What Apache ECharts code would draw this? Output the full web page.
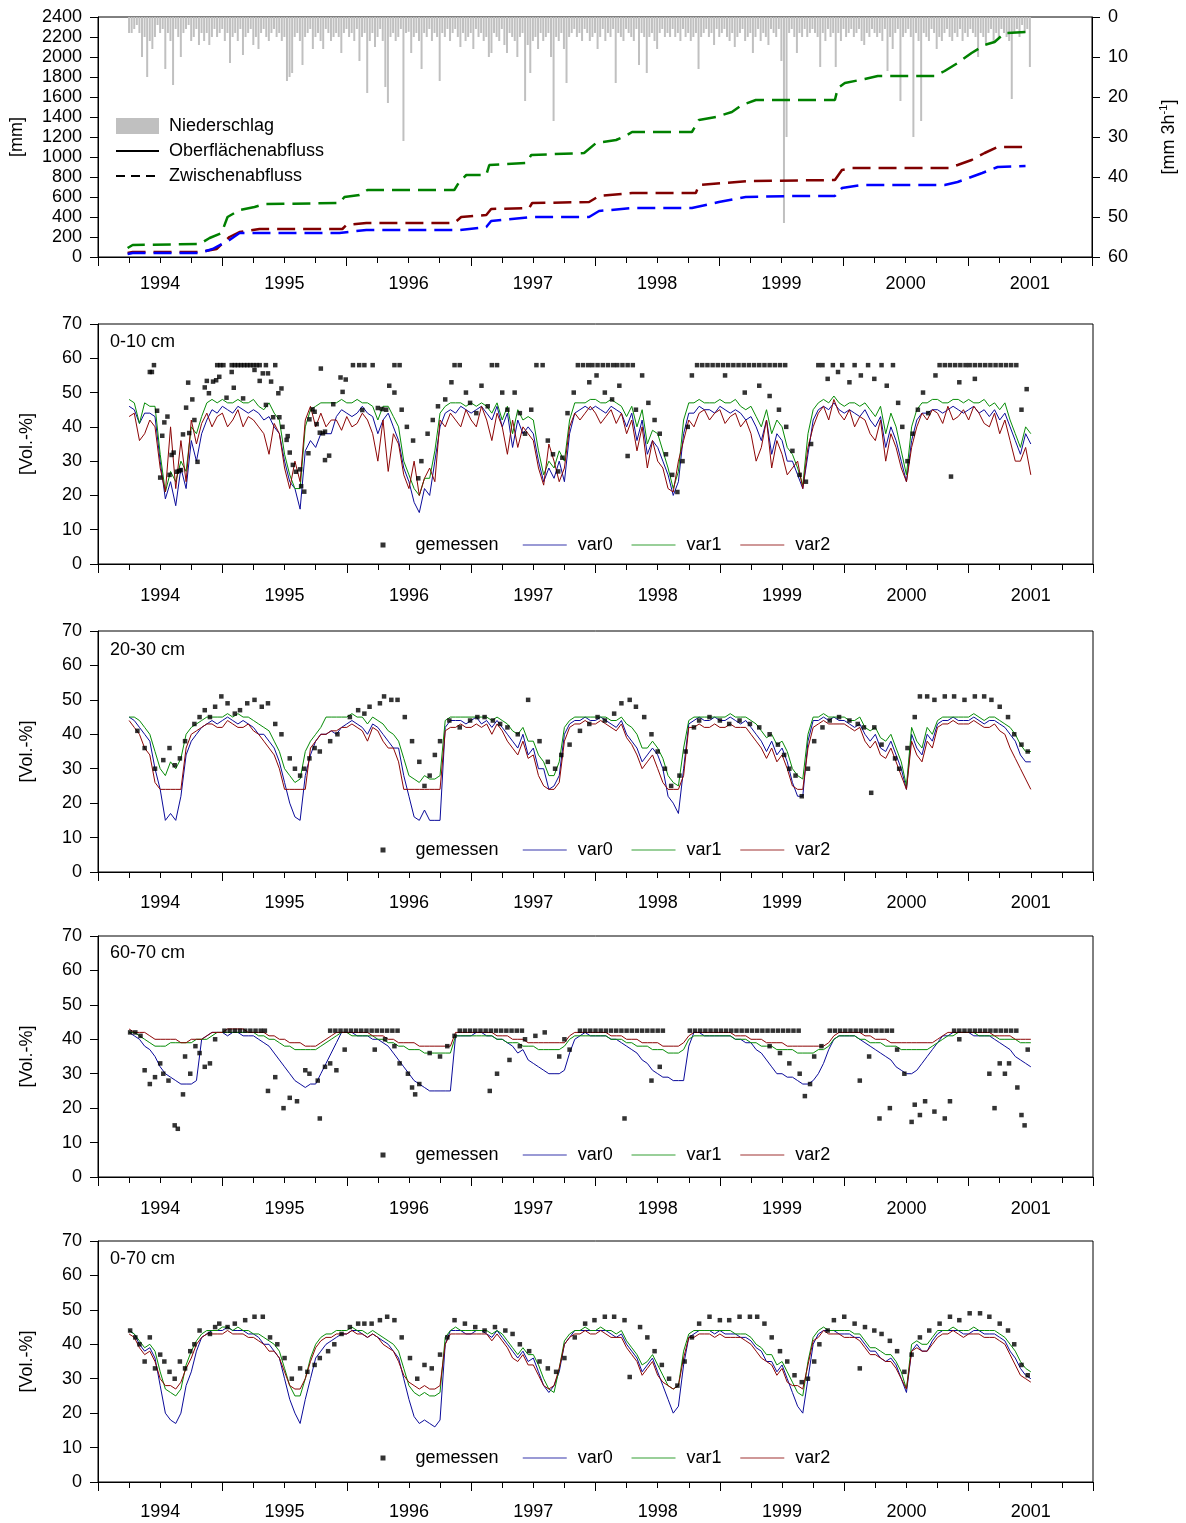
<!DOCTYPE html>
<html>
<head>
<meta charset="utf-8">
<script src="https://cdn.jsdelivr.net/npm/echarts@6/dist/echarts.min.js"></script>
<style>
  html, body { margin: 0; padding: 0; background: #fff; }
  #chart { width: 1186px; height: 1523px; }
</style>
</head>
<body>
<div id="chart"></div>
<script>
// ---------------------------------------------------------------------------
// Time base: all times are months after 1 Jan 1994.
// Simulated series are sampled every half month from April 1994 (month 3)
// to the end of June 2001 (month 90); rainfall is sampled weekly.
// ---------------------------------------------------------------------------
const SIM_START = 3, SIM_STEP = 0.5;
const RAIN_START = 3, RAIN_STEP = 0.25;

const yearLabels = [1994, 1995, 1996, 1997, 1998, 1999, 2000, 2001];
const depthLabels = ['0-10 cm', '20-30 cm', '60-70 cm', '0-70 cm'];

// Rainfall [mm 3h-1], weekly maxima
const rain = [
  4,4,3,2,4,10,5,15,6,8, 5,2,4,3,13,4,6,17,3,5, 10,4,3,2,6,5,3,7,4,6,
  4,7,5,3,5,4,3,6,4,11.5, 5,4,6,3,9.5,5,4,3,7,5, 8,4,3,5,6,4,3,5,4,6,
  5,16,15,14,5,4,6,12,5,4, 3,8,5,4,6,8,3,4,6,5, 4,5,9,4,3,5,4,6,3,11,
  5,4,19,6,4,7.5,5,3,6,17.5, 21.5,5,4,6,5,3,31,4,3.7,9, 5,4,6,13,4,5,3,6,4,5,
  16,4,5,3,6,4,3,5,7.5,4, 6,5,4,8,3,5,4,6,5,10, 9,4,5,6,3,7,9,4,5,6,
  10,5,4,21,7,14,6,5,8,4, 6,5,4,10,26,5,6,4,8,16.5, 5,4,3,5,4,6,3,4,6,5,
  4,8,5,3,6,4,5,3,16.5,4, 5,6,3,4,5,6,3,12,4,5, 14,5,4,6,8,4,3,5,4,5,
  3,5,4,6,3,5,4,6,5,4, 13,5,4,3,5,4,7,3,5,4, 3,5,6,4,7.5,5,4,3,6,5,
  4,9,5,3,6,4,5,7,3,4, 5,3,11,51.5,30,4,3,5,9,4, 5,3,5,4,3,4,5,12.5,4,6,
  3,5,4,12.5,4,6,3,5,4,3, 5,4,3,6,7,4,5,3,4,5, 4,6,3,13.5,5,8,4,3,21,5,
  4,3,5,30,4,6,26,4,5,6, 3,4,8,5,6,4,3,5,6,4, 5,3,6,4,5,3,4,5,10,4,
  5,6.5,4,3,6,4,5,3,4,5, 6,20.5,4,3,5,2,4,3,12.5
];

// Cumulative interflow [mm] as [month, value]
const cumVar0 = [[2.86,30],[3.35,40],[9.81,40],[11.06,80],[12.7,170],[13.67,240],[23.32,240],[25.92,270],
  [34.89,270],[37.5,300],[37.97,360],[41.93,400],[47.43,400],[48.39,460],[51.58,490],[57.36,490],[59.96,550],
  [62.55,600],[66.99,610],[71.17,610],[71.85,690],[73.77,720],[81.77,720],[83.02,750],[85.4,840],[86.88,900],[89.58,910]];
const cumVar1 = [[2.86,90],[3.35,120],[9.81,130],[10.78,190],[11.93,240],[12.51,400],[13.67,470],[15.12,500],
  [16.08,530],[23.32,540],[23.8,600],[25.25,620],[26.02,670],[34.41,670],[34.89,750],[35.57,820],[37.5,820],
  [37.79,920],[41.35,940],[41.84,1020],[46.95,1040],[48.11,1140],[50.04,1170],[51.1,1220],[51.58,1250],
  [57.36,1250],[58.04,1370],[59.68,1400],[61.22,1450],[62.18,1520],[63.53,1570],[71.17,1570],[71.45,1690],
  [72.13,1740],[74.06,1780],[75.31,1810],[80.81,1810],[81.77,1860],[83.02,1940],[84.37,2040],[85.63,2120],
  [86.59,2150],[87.56,2240],[89.78,2250]];
const cumVar2 = [[2.86,40],[3.35,50],[9.81,50],[11.45,80],[12.7,200],[13.67,250],[15.6,280],[23.6,280],[23.99,320],
  [25.92,340],[34.41,340],[35.08,400],[37.5,420],[37.97,480],[41.64,490],[41.93,540],[47.43,550],[48.39,610],
  [51.58,640],[57.74,640],[58.04,720],[62.86,760],[71.17,770],[71.85,870],[72.81,890],[82.17,890],[83.02,920],
  [84.37,970],[85.63,1040],[86.88,1100],[89.78,1100]];

// Soil water content [Vol.-%], 0-10 cm
const d1var0 = [46,45,41,44,44,43,30,19,24,17,28,22,36,30,38,42,45,44,
  46,45,44,46,45,44,45,44,42,43,40,38,30,24,22,16,33,36,34,38,38,38,43,45,
  44,43,44,46,44,43,38,42,44,40,36,28,24,18,15,22,20,30,40,44,45,44,46,45,
  44,45,46,44,42,46,40,44,34,42,38,40,38,30,24,28,25,30,24,38,44,45,46,45,
  46,45,44,46,45,44,40,44,36,42,32,36,34,30,26,20,24,38,44,44,46,45,45,44,
  46,45,44,45,44,42,43,40,36,42,32,38,36,30,30,26,22,32,42,45,46,45,47,45,
  44,45,44,43,45,42,40,43,34,40,36,30,24,36,42,44,44,45,45,44,45,46,45,44,
  45,46,44,45,43,45,42,44,40,36,32,38,35];
const d1var1 = [48,47,41,47,46,46,32,21,27,24,30,27,40,38,43,47,48,47,
  48,47,47,48,47,47,48,46,45,47,44,42,32,26,22,22,40,45,46,47,47,47,47,48,
  47,47,48,47,47,46,42,46,46,43,40,30,26,22,20,25,25,33,44,46,47,47,47,46,
  47,46,47,46,44,47,42,46,38,45,42,43,42,33,26,30,28,33,30,42,47,47,47,48,
  48,47,47,48,47,46,43,46,40,45,35,39,38,33,28,22,27,42,47,47,48,47,47,47,
  48,47,47,48,46,45,46,43,40,45,38,42,40,34,32,28,23,38,45,47,48,47,49,47,
  46,47,47,46,47,45,43,46,38,44,40,33,26,40,45,47,47,48,48,47,47,48,48,47,
  48,47,47,48,46,47,45,47,42,38,34,40,38];
const d1var2 = [43,44,36,38,42,40,28,21,40,22,36,24,42,35,41,44,40,43,
  44,40,42,45,40,43,42,40,38,32,41,38,28,22,30,24,42,46,40,44,40,42,42,39,
  43,40,41,44,42,38,30,42,27,38,35,26,22,30,20,25,28,24,42,40,44,42,40,45,
  42,40,46,42,36,44,40,32,42,34,40,38,36,28,23,35,30,24,28,40,44,42,44,46,
  44,41,43,45,41,44,38,42,33,40,28,36,30,28,22,21,30,36,42,40,44,45,42,44,
  45,41,43,44,40,42,38,30,34,42,28,36,32,26,28,30,22,34,40,44,46,42,48,44,
  42,45,40,43,42,38,36,42,30,38,34,28,24,34,40,44,42,45,44,41,46,42,43,45,
  42,46,44,41,40,44,38,42,36,30,30,34,26];

// 20-30 cm
const d2var0 = [45,44,42,40,38,30,24,15,17,15,22,34,38,40,42,43,44,43,
  44,45,44,43,44,43,42,40,40,38,36,32,26,20,16,15,28,34,38,40,40,41,40,42,
  43,44,43,42,40,43,42,40,38,36,36,28,22,16,15,18,15,15,15,42,44,44,44,43,
  44,45,43,44,42,44,42,40,38,36,40,34,36,30,30,24,25,28,40,43,44,44,45,44,
  44,45,44,43,42,44,40,38,36,32,34,36,34,30,22,20,17,30,43,44,45,44,44,45,
  44,44,45,44,43,44,42,40,38,35,38,34,36,32,26,22,22,38,44,44,45,44,45,44,
  44,43,42,43,40,38,40,36,35,38,34,30,24,40,36,34,40,38,43,44,44,45,44,44,
  44,45,44,43,44,44,43,42,40,38,34,32,32];
const d2var1 = [45,45,44,42,40,35,30,28,32,30,33,40,42,43,44,45,45,45,
  45,46,45,46,45,45,44,43,42,41,38,35,30,28,26,27,35,38,40,42,45,45,45,45,
  45,46,45,45,43,45,44,43,41,40,38,33,28,27,26,28,27,27,28,44,45,45,45,45,
  45,45,45,45,44,45,44,43,41,40,42,38,38,34,32,28,28,32,42,44,45,45,45,45,
  45,45,45,44,44,45,43,42,40,36,36,38,36,33,28,26,25,36,44,45,45,45,45,45,
  45,45,46,45,45,45,44,43,41,39,40,37,38,35,30,28,27,40,45,45,46,45,45,45,
  45,44,44,45,42,41,42,39,38,40,36,32,25,42,38,36,42,40,44,45,45,45,45,45,
  45,46,45,44,45,45,44,43,42,40,37,35,35];
const d2var2 = [44,42,40,36,34,26,24,24,24,24,24,36,40,41,42,43,43,42,
  42,44,43,42,42,43,41,40,38,36,34,30,24,24,24,24,24,36,38,40,40,41,41,42,
  42,43,42,41,38,42,41,38,36,36,32,24,24,24,24,24,24,24,24,41,42,42,43,42,
  42,43,42,43,40,43,41,38,36,34,38,33,34,28,25,24,24,26,38,42,43,43,44,43,
  43,44,43,42,41,43,39,37,34,30,32,34,30,26,24,24,24,28,42,42,43,42,42,43,
  42,42,43,42,42,42,40,38,36,33,36,32,34,30,25,24,24,36,42,43,44,43,43,43,
  43,42,41,42,38,36,38,34,33,36,32,28,24,38,34,32,38,36,42,43,43,44,43,43,
  43,44,43,42,42,43,41,40,36,33,30,27,24];

// 60-70 cm
const d3var0 = [42,41,40,38,37,35,32,30,29,28,27,27,27,28,40,41,42,42,
  42,41,42,42,41,41,41,40,39,38,36,34,32,30,28,27,26,27,27,30,33,36,39,42,
  42,42,41,41,41,40,40,39,38,36,34,32,30,28,27,26,25,25,25,25,25,41,41,41,
  41,42,42,41,41,40,40,39,38,36,37,34,33,32,31,30,30,30,31,36,40,41,42,41,
  41,41,41,40,40,39,38,37,36,34,33,31,30,29,29,28,28,28,38,42,42,41,41,41,
  41,41,41,40,40,39,39,37,36,34,32,30,30,29,29,28,27,27,28,30,33,37,40,41,
  41,41,41,40,39,38,37,36,35,34,32,31,30,30,31,33,35,37,39,41,41,42,42,42,
  42,41,41,41,41,40,39,38,37,35,34,33,32];
const d3var1 = [42,42,41,40,39,38,38,38,39,39,39,39,39,40,40,40,41,42,
  42,42,42,42,42,42,42,41,41,40,40,39,38,38,37,37,37,37,37,38,39,40,41,42,
  42,41,41,41,41,41,40,40,39,39,38,38,37,37,37,36,36,36,36,36,36,41,41,41,
  41,41,41,41,41,40,40,39,39,39,38,38,38,37,37,37,37,37,38,40,41,41,41,41,
  41,41,41,40,40,40,39,39,38,38,38,37,37,37,36,36,36,37,40,41,41,41,41,41,
  41,41,41,40,40,40,39,39,38,38,38,37,37,37,37,36,36,36,36,37,37,38,40,41,
  41,41,41,40,40,39,39,39,38,38,38,37,37,37,37,37,37,38,39,40,41,41,42,42,
  42,42,41,41,41,41,40,40,40,40,39,39,39];
const d3var2 = [43,42,42,42,41,40,40,40,40,40,39,39,40,40,40,41,42,42,
  42,43,43,43,43,42,42,42,42,41,41,40,40,39,39,39,38,38,38,39,40,41,42,42,
  42,42,42,42,42,41,41,41,40,40,39,39,39,39,38,38,38,38,38,38,38,42,42,42,
  42,42,42,42,42,41,41,41,40,40,40,39,39,39,39,39,39,39,39,41,42,42,42,42,
  42,42,42,41,41,41,40,40,40,39,39,39,39,38,38,38,38,39,41,42,42,42,42,42,
  42,42,42,41,41,41,40,40,40,39,39,39,39,38,38,38,38,38,38,38,38,39,41,42,
  42,42,42,42,41,41,40,40,40,39,39,39,39,39,39,39,39,39,40,41,42,42,42,42,
  42,42,42,42,42,41,41,41,41,40,40,40,40];

// 0-70 cm
const d4var0 = [44,43,40,38,39,36,28,20,18,17,20,28,32,38,42,43,44,44,
  44,45,44,44,44,43,43,42,40,40,38,36,30,24,20,17,24,30,36,38,40,41,42,43,
  43,44,44,43,42,43,42,41,40,38,36,30,24,19,17,18,17,16,18,40,44,44,44,43,
  43,44,44,43,42,44,42,40,38,36,38,35,36,32,28,26,28,32,40,42,44,44,44,44,
  44,44,44,43,42,43,40,38,36,32,34,36,32,28,24,20,22,34,42,43,44,44,44,43,
  44,43,43,43,42,42,41,39,38,35,35,32,34,30,26,22,20,30,40,43,44,44,44,43,
  43,43,42,42,40,38,38,36,35,36,34,30,26,38,40,38,38,41,43,44,44,44,44,43,
  43,44,44,43,43,43,42,41,38,36,33,31,30];
const d4var1 = [44,43,41,39,40,38,32,27,26,25,27,34,38,41,43,44,44,44,
  45,45,44,45,44,44,43,43,42,41,40,38,33,28,25,25,30,36,40,42,43,43,44,44,
  44,45,44,44,43,44,43,42,41,40,38,33,28,26,25,26,25,25,26,42,44,45,44,44,
  44,44,44,44,43,44,43,41,39,37,39,37,37,34,30,27,26,33,41,43,44,44,45,44,
  44,45,44,44,43,44,41,39,37,34,35,37,34,31,28,27,28,38,43,44,44,44,44,44,
  44,44,44,43,43,43,42,40,39,37,37,34,35,32,29,26,25,35,42,44,45,44,44,44,
  44,44,43,43,41,39,39,38,37,37,35,32,27,40,41,40,40,42,44,44,44,45,44,44,
  44,45,44,44,44,44,43,42,40,38,35,33,32];
const d4var2 = [43,42,39,37,38,35,30,28,28,27,29,33,36,40,42,43,43,43,
  43,44,43,43,43,42,42,41,40,38,38,36,32,28,27,27,30,35,39,41,42,42,43,43,
  43,44,43,43,42,43,42,40,39,38,35,31,29,28,27,28,27,27,28,40,43,43,43,43,
  43,43,43,43,41,43,41,39,36,35,37,34,34,31,28,27,28,33,40,42,43,43,44,43,
  43,44,43,42,42,42,39,37,35,31,33,35,31,29,28,27,28,36,42,42,43,43,43,42,
  43,42,42,42,42,41,40,38,36,35,34,31,33,29,28,28,27,34,41,42,44,43,43,43,
  42,42,42,41,39,37,37,36,35,35,33,30,27,38,39,38,38,40,42,43,43,44,43,42,
  43,43,43,42,42,42,41,40,37,34,31,30,29];

// Measured soil water content [month, Vol.-%]
const d1measured = [[5.0,56],[5.2,56],[5.4,58],[5.7,44.7],[6.0,25.2],[6.2,37.4],[6.4,41.3],[6.7,43],[6.9,26],
  [7.1,31.8],[7.3,32.5],[7.6,26.9],[7.8,27.1],[8.0,27.4],[8.2,37.8],[8.5,45.6],[8.7,52.9],[8.8,38.2],[9.1,48],
  [9.3,42],[9.6,29.8],[10.3,51.5],[10.5,53.4],[10.7,49.8],[11.1,53.2],[11.4,53.6],[11.7,54.6],
  [11.5,58],[11.8,58],[12.1,58],[12.9,58],[13.2,58],[13.5,58],[13.8,58],[14.1,58],[14.4,58],[14.7,58],[15.0,58],
  [15.3,58],[15.6,58],[12.4,48.5],[12.9,56],[13.1,51.4],[14.0,48.3],[15.1,56.6],[15.6,53.4],[15.9,55.6],
  [16.2,58],[16.4,55.6],[16.7,53.2],[16.2,46.4],[16.9,42.8],[17.1,58],[17.4,49.8],[17.7,51.2],[17.5,42.8],
  [17.8,40],[18.2,36.2],[18.3,37.3],[18.5,32.5],[18.8,28.9],[19.1,26.9],[19.5,27.6],[19.6,22.7],[19.9,21.1],
  [20.3,32.3],[20.4,42.2],[20.7,45.1],[20.9,44.4],[21.1,40.8],[21.4,38.3],[21.7,38.1],[21.9,38.6],[21.9,30.3],
  [22.3,31.6],[21.5,57],[22.7,46.6],[23.4,54.4],[23.9,53.8],[23.6,50.2],[24.6,58],[25.2,58],[25.7,58],[26.5,58],
  [25.5,44.9],[27.0,45.5],[27.4,45.2],[27.8,45],[28.6,58],[29.1,58],[28.1,52],[28.6,50],[29.3,45],
  [29.8,40],[30.4,36],[30.9,25],[31.2,30],[31.8,38],[32.3,42],[32.8,46],[33.5,48],[34.1,53],[34.4,58],[34.9,58],
  [35.5,50],[35.9,47],[36.5,44],[37.0,52],[37.6,46],[38.0,58],[38.5,58],[39.0,50],[39.5,45],[40.2,50],[40.7,44],
  [41.2,38],[41.8,45],[42.3,58],[42.9,58],[43.4,36],[43.9,32],[44.4,27],[44.8,31],[45.3,44],[45.9,50],[46.3,58],
  [46.8,58],[47.3,58],[47.7,58],[48.2,58],[48.7,58],[49.2,58],[49.7,58],[50.1,58],[50.6,58],[51.1,58],[51.6,58],
  [47.4,53],[48.1,55],[48.9,50],[49.6,48],[50.3,52],[51.1,31.5],[51.9,45],[52.5,55],[53.1,47],[53.7,42],[54.2,38],
  [54.8,32],[55.4,26],[55.9,21],[56.4,30],[56.9,40],[57.3,55],[57.8,58],[58.3,58],[58.8,58],[59.3,58],[59.8,58],
  [60.3,58],[60.8,58],[61.3,58],[61.8,58],[62.3,58],[62.8,58],[63.3,58],[63.8,58],[64.3,58],[64.8,58],[65.3,58],
  [65.8,58],[66.3,58],[60.5,55],[62.4,50],[63.8,52],[64.8,49],[65.7,45],[66.4,40],[67.0,33],[67.7,26],[68.3,24],
  [68.8,35],[69.5,58],[69.9,58],[70.4,54],[70.9,58],[71.4,56],[71.8,58],[72.5,53],[73.0,58],[73.6,55],[74.3,58],
  [74.9,54],[75.6,58],[76.1,52],[76.7,58],[77.2,47],[77.6,40],[78.1,30],[78.6,38],[79.1,45],[79.6,50],[80.1,44],
  [80.8,55],[81.2,58],[81.7,58],[82.2,58],[82.7,58],[83.2,58],[83.7,58],[84.1,58],[84.6,58],[85.1,58],[85.6,58],
  [86.1,58],[86.6,58],[87.1,58],[87.6,58],[88.1,58],[88.6,58],[82.3,25.5],[83.1,53],[84.6,54],[89.6,51],[89.1,45]];

const d2measured = [[3.8,41],[4.5,36],[5.5,30],[6.3,32.5],[6.9,36],[7.4,31],[7.9,33],[8.4,38],[9.3,43],[9.8,45],
  [10.3,47],[10.8,45],[11.3,48],[11.9,51],[12.5,49],[13.2,46],[13.7,47],[14.4,49],[15.1,50],[15.8,48],[16.4,49],
  [17.1,43],[17.7,40],[18.5,33],[19.0,30],[19.5,28],[19.9,30],[20.4,33],[20.9,36],[21.4,35],[22.4,38],[23.1,40],
  [24.3,45],[25.1,47],[25.7,46],[26.2,48],[27.2,49],[27.6,51],[28.3,50],[28.9,50],[29.6,45],[30.3,38],[31.0,32],
  [31.5,25],[32.0,28],[32.5,34],[33.0,38],[33.9,44],[34.9,42],[35.9,44],[36.6,45],[37.3,45],[38.1,44],[38.8,43],
  [39.5,42],[40.5,40],[41.5,50],[42.6,38],[43.4,32],[44.1,30],[44.7,34],[45.5,37],[46.5,41],[47.4,43],[48.2,45],
  [48.9,44],[49.8,46],[50.5,49],[51.3,50],[51.9,48],[52.7,45],[53.4,40],[54.0,35],[54.7,30],[55.3,25],[56.1,28],
  [56.7,35],[57.5,42],[58.0,44],[59.0,45],[60.0,44],[60.9,43],[61.9,44],[62.9,43],[63.8,42],[64.8,40],[65.6,37],
  [66.2,34],[66.7,30],[67.3,28],[67.9,22],[68.5,30],[69.1,38],[69.9,42],[70.6,44],[71.5,45],[72.5,44],[73.3,43],
  [73.9,42],[74.6,23],[74.9,42],[75.6,37],[76.9,33],[77.3,30],[78.1,36],[78.8,45],[79.3,51],[80.0,51],[80.7,50],
  [81.7,51],[82.6,51],[83.6,50],[84.6,51],[85.5,51],[86.2,50],[87.0,48],[87.8,45],[88.4,40],[89.1,37],[89.7,35]];

const d3measured = [[3.1,42],[3.6,42],[4.1,41],
  [12.2,42.5],[12.7,42.5],[13.2,42.5],[13.7,42.5],[14.2,42.5],[14.7,42.5],[15.2,42.5],[15.7,42.5],[16.1,42.5],
  [22.4,42.5],[22.9,42.5],[23.4,42.5],[23.9,42.5],[24.4,42.5],[24.9,42.5],[25.4,42.5],[25.9,42.5],[26.4,42.5],
  [26.9,42.5],[27.4,42.5],[27.9,42.5],[28.4,42.5],[28.9,42.5],
  [34.9,42.5],[35.4,42.5],[35.9,42.5],[36.4,42.5],[36.9,42.5],[37.4,42.5],[37.9,42.5],[38.4,42.5],[38.9,42.5],
  [39.4,42.5],[39.9,42.5],[40.4,42.5],[40.9,42.5],
  [46.5,42.5],[47.0,42.5],[47.5,42.5],[48.0,42.5],[48.5,42.5],[49.0,42.5],[49.5,42.5],[50.0,42.5],[50.5,42.5],
  [51.0,42.5],[51.5,42.5],[52.0,42.5],[52.5,42.5],[53.0,42.5],[53.5,42.5],[54.0,42.5],[54.5,42.5],
  [57.1,42.5],[57.6,42.5],[58.1,42.5],[58.6,42.5],[59.1,42.5],[59.6,42.5],[60.1,42.5],[60.6,42.5],[61.1,42.5],
  [61.6,42.5],[62.1,42.5],[62.6,42.5],[63.1,42.5],[63.6,42.5],[64.1,42.5],[64.6,42.5],[65.1,42.5],[65.6,42.5],
  [66.1,42.5],[66.6,42.5],[67.1,42.5],[67.6,42.5],
  [70.6,42.5],[71.1,42.5],[71.6,42.5],[72.1,42.5],[72.6,42.5],[73.1,42.5],[73.6,42.5],[74.1,42.5],[74.6,42.5],
  [75.1,42.5],[75.6,42.5],[76.1,42.5],[76.6,42.5],
  [82.6,42.5],[83.1,42.5],[83.6,42.5],[84.1,42.5],[84.6,42.5],[85.1,42.5],[85.6,42.5],[86.1,42.5],[86.6,42.5],
  [87.1,42.5],[87.6,42.5],[88.1,42.5],[88.6,42.5],
  [4.5,31],[5.0,27],[5.5,29],[6.0,33],[6.3,30],[6.8,28],[8.2,24],[7.4,15],[7.7,14],[8.4,35],[8.9,30],[9.4,38],
  [9.8,36],[10.3,32],[10.8,33],[11.3,40],[16.4,25],[17.1,29],[17.9,20],[18.5,23],[19.2,22],[20.0,31],[20.4,30],
  [21.2,28],[21.4,17],[21.9,32],[22.4,33],[23.0,31],[23.8,37],[26.7,37],[27.7,40],[28.6,38],[29.1,33],[29.9,30],
  [30.3,26],[30.6,24],[31.0,27],[32.0,36],[33.0,35],[33.7,38],[34.4,41],[37.8,25],[38.5,30],[39.7,34],[40.7,38],
  [41.2,40],[42.2,41],[43.1,42],[44.5,35],[45.5,37],[45.0,40],[50.8,17],[53.4,28],[54.2,32],[64.8,38],[65.8,36],
  [66.7,33],[67.7,30],[68.2,23.5],[68.7,27],[69.1,35],[69.8,38],[73.5,28],[74.4,35],[75.4,17],[76.4,20],[77.1,37],
  [77.8,30],[78.5,16],[78.8,21],[79.3,18],[79.8,22],[80.7,19],[81.7,17],[82.2,22],[83.1,40],[86.0,30],[86.5,20],
  [87.0,33],[87.5,30],[87.9,33],[88.7,26],[89.1,18],[89.4,15],[89.7,37]];

const d4measured = [[3.1,44],[3.6,42],[4.0,40],[4.5,35],[5.0,42],[5.5,33],[6.0,37],[6.4,35],[6.9,32],[7.4,30],
  [7.9,35],[8.4,33],[8.9,38],[9.3,40],[9.8,44],[10.8,43],[11.3,45],[11.7,46],[12.5,45],[13.2,46],[14.2,47],
  [15.1,48],[15.9,48],[16.6,42],[17.3,40],[18.0,36],[18.7,30],[19.5,33],[20.2,32],[20.9,34],[21.4,36],[22.2,38],
  [22.8,40],[23.5,43],[24.3,45],[25.1,46],[25.7,46],[26.4,46],[27.2,47],[27.9,48],[28.6,47],[29.3,42],[30.1,36],
  [30.8,30],[31.5,34],[32.2,33],[33.0,37],[33.7,42],[34.4,47],[35.4,46],[36.4,45],[37.3,44],[38.3,45],[39.3,44],
  [40.0,43],[40.7,40],[41.6,38],[42.6,35],[43.4,33],[44.2,32],[45.0,36],[46.0,42],[47.0,46],[47.9,47],[48.9,48],
  [49.8,48],[50.8,47],[51.3,30.5],[52.3,45],[53.0,42],[53.7,38],[54.4,34],[55.1,30],[55.9,28],[56.6,35],[57.3,42],
  [58.0,46],[59.0,48],[60.0,47],[60.9,47],[61.9,48],[62.9,48],[63.6,48],[64.3,46],[65.0,42],[65.8,38],[66.5,35],
  [67.2,31],[67.9,29],[68.5,30],[69.1,35],[69.6,40],[70.4,44],[71.0,47],[72.0,48],[73.0,46],[73.5,33],[74.0,45],
  [74.9,44],[75.6,43],[76.4,41],[77.1,38],[77.8,32],[78.5,37],[79.3,42],[80.2,44],[81.2,46],[82.2,48],[83.1,47],
  [84.1,49],[85.1,49],[86.0,48],[87.0,46],[87.8,44],[88.4,40],[89.1,34],[89.7,31]];

// ---------------------------------------------------------------------------
const FONT = '"Liberation Sans", Arial, Helvetica, sans-serif';
const C0 = '#0b0b9a', C1 = '#078c07', C2 = '#8c0505';
const toYear = m => 1994 + m / 12;
const regular = (arr, start, step) => arr.map((v, i) => [toYear(start + i * step), v]);
const pairs = arr => arr.map(p => [toYear(p[0]), p[1]]);

const grids = [
  { left: 98, width: 995, top: 17, height: 240 },
  { left: 98, width: 995, top: 324, height: 240 },
  { left: 98, width: 995, top: 631, height: 241 },
  { left: 98, width: 995, top: 936, height: 241 },
  { left: 98, width: 995, top: 1241, height: 241 }
].map(g => Object.assign(g, { show: true, borderColor: '#000', borderWidth: 1, backgroundColor: 'transparent' }));

const blackLine = { show: true, onZero: false, lineStyle: { color: '#000', width: 1 } };
const labelStyle = { color: '#000', fontSize: 18, fontFamily: FONT };
const xLabelMargins = [18, 23, 22, 23, 21];

const xAxes = grids.map((g, i) => ({
  type: 'value', gridIndex: i, min: 1994, max: 2002, interval: 1,
  axisLine: blackLine,
  axisTick: { show: true, length: 9, lineStyle: { color: '#000', width: 1 } },
  minorTick: { show: true, splitNumber: 4, length: 6, lineStyle: { color: '#000', width: 1 } },
  splitLine: { show: false }, minorSplitLine: { show: false },
  axisLabel: Object.assign({
    customValues: yearLabels.map(y => y + 0.5),
    formatter: v => String(Math.floor(v)), margin: xLabelMargins[i]
  }, labelStyle)
}));

const plain = v => String(v);
const yTick = { show: true, length: 8, lineStyle: { color: '#000', width: 1 } };
const yAxes = [
  { type: 'value', gridIndex: 0, min: 0, max: 2400, interval: 200, axisLine: blackLine, axisTick: yTick,
    splitLine: { show: false }, axisLabel: Object.assign({ margin: 16, formatter: plain }, labelStyle),
    name: '[mm]', nameLocation: 'middle', nameGap: 72, nameRotate: 90, nameTextStyle: labelStyle },
  { type: 'value', gridIndex: 0, position: 'right', inverse: true, min: 0, max: 60, interval: 10,
    axisLine: blackLine, axisTick: yTick, splitLine: { show: false },
    axisLabel: Object.assign({ margin: 16, formatter: plain }, labelStyle),
    name: '{a|[mm 3h}{s|-1}{a|]}', nameLocation: 'middle', nameGap: 66, nameRotate: 90,
    nameTextStyle: { color: '#000', fontFamily: FONT,
      rich: { a: { fontSize: 18, fontFamily: FONT, color: '#000', verticalAlign: 'bottom', lineHeight: 20 },
              s: { fontSize: 11, fontFamily: FONT, color: '#000', verticalAlign: 'top', lineHeight: 20 } } } }
];
for (let i = 1; i <= 4; i++) {
  yAxes.push({ type: 'value', gridIndex: i, min: 0, max: 70, interval: 10, axisLine: blackLine, axisTick: yTick,
    splitLine: { show: false }, axisLabel: Object.assign({ margin: 16, formatter: plain }, labelStyle),
    name: '[Vol.-%]', nameLocation: 'middle', nameGap: 62, nameRotate: 90, nameTextStyle: labelStyle });
}

const dashed = (color) => ({ color: color, width: 2.5, type: [18, 8] });
const series = [
  { name: 'Niederschlag', type: 'bar', xAxisIndex: 0, yAxisIndex: 1, barWidth: 2, z: 1,
    itemStyle: { color: '#c0c0c0' }, data: regular(rain, RAIN_START, RAIN_STEP) },
  { name: 'Oberflächenabfluss', type: 'line', xAxisIndex: 0, yAxisIndex: 0, symbol: 'none',
    color: '#000', lineStyle: { color: '#000', width: 1.2 }, data: [] },
  { name: 'Zwischenabfluss', type: 'line', xAxisIndex: 0, yAxisIndex: 0, symbol: 'none',
    color: '#000', lineStyle: { color: '#000', width: 1.2, type: [9, 6] }, data: [] },
  { name: 'Zwischenabfluss var1', type: 'line', xAxisIndex: 0, yAxisIndex: 0, symbol: 'none', z: 3,
    lineStyle: dashed('#008000'), data: pairs(cumVar1) },
  { name: 'Zwischenabfluss var2', type: 'line', xAxisIndex: 0, yAxisIndex: 0, symbol: 'none', z: 3,
    lineStyle: dashed('#800000'), data: pairs(cumVar2) },
  { name: 'Zwischenabfluss var0', type: 'line', xAxisIndex: 0, yAxisIndex: 0, symbol: 'none', z: 3,
    lineStyle: dashed('#0000ff'), data: pairs(cumVar0) }
];

const depthSets = [
  [d1measured, d1var0, d1var1, d1var2],
  [d2measured, d2var0, d2var1, d2var2],
  [d3measured, d3var0, d3var1, d3var2],
  [d4measured, d4var0, d4var1, d4var2]
];
depthSets.forEach((set, k) => {
  const ax = k + 1, yax = k + 2;
  const line = (name, color, arr, z) => ({
    name: name, type: 'line', xAxisIndex: ax, yAxisIndex: yax, symbol: 'none', z: z,
    color: color, lineStyle: { color: color, width: 1 }, data: regular(arr, SIM_START, SIM_STEP)
  });
  series.push(line('var0', C0, set[1], 2));
  series.push(line('var1', C1, set[2], 3));
  series.push(line('var2', C2, set[3], 4));
  series.push({ name: 'gemessen', type: 'scatter', xAxisIndex: ax, yAxisIndex: yax, symbol: 'rect',
    symbolSize: 4.5, z: 5, itemStyle: { color: '#000' }, data: pairs(set[0]) });
});

// Line entries in the legends show only the stroke, no marker.
const lineEntry = (name, fade) => ({ name: name, itemStyle: { opacity: 0 },
  lineStyle: fade ? { opacity: 0.55, width: 1.5 } : undefined });
const legendText = { color: '#000', fontSize: 18, fontFamily: FONT, lineHeight: 20 };
const legends = [{
  data: [{ name: 'Niederschlag', icon: 'rect' }, lineEntry('Oberflächenabfluss'), lineEntry('Zwischenabfluss')],
  orient: 'vertical', left: 115, top: 116, padding: 0, itemWidth: 43, itemHeight: 16, itemGap: 5,
  selectedMode: false, textStyle: Object.assign({ padding: [0, 0, 0, 5] }, legendText)
}];
const legendTops = [534, 839, 1144, 1447];
legendTops.forEach(t => {
  legends.push({ data: [{ name: 'gemessen', icon: 'rect' }], left: 380.5, top: t + 1, padding: 0,
    itemWidth: 5, itemHeight: 5, selectedMode: false,
    textStyle: Object.assign({ padding: [0, 0, 0, 25] }, legendText) });
  legends.push({ data: ['var0', 'var1', 'var2'].map(n => lineEntry(n, true)), left: 522, top: t + 1, padding: 0,
    itemWidth: 44, itemHeight: 14, itemGap: 18, selectedMode: false,
    textStyle: Object.assign({ padding: [0, 0, 0, 6] }, legendText) });
});

const labelTops = [333, 641, 944, 1250];
const graphics = depthLabels.map((txt, i) => ({
  type: 'text', left: 110, top: labelTops[i],
  style: { text: txt, fill: '#000', fontSize: 18, fontFamily: FONT }
}));

const chart = echarts.init(document.getElementById('chart'), null, { renderer: 'canvas' });
chart.setOption({
  animation: false,
  backgroundColor: '#fff',
  textStyle: { fontFamily: FONT },
  grid: grids,
  xAxis: xAxes,
  yAxis: yAxes,
  legend: legends,
  graphic: graphics,
  series: series
});
</script>
</body>
</html>
